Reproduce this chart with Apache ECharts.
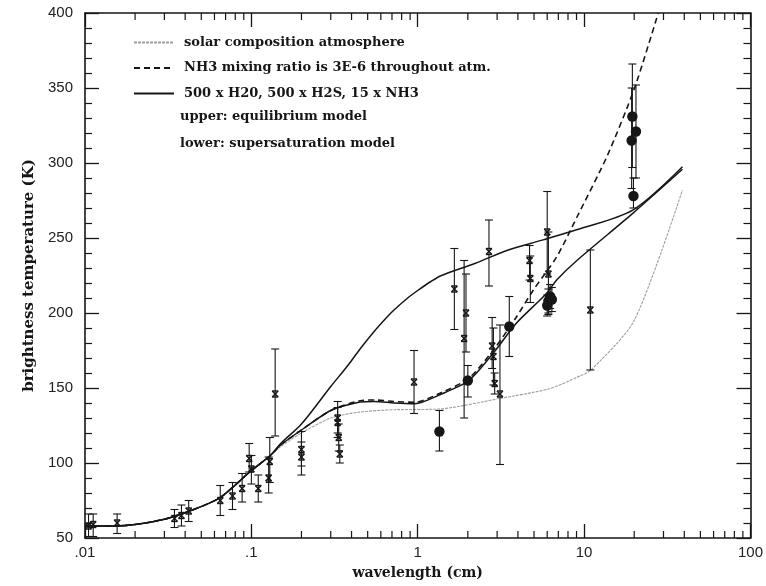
<!DOCTYPE html>
<html><head><meta charset="utf-8">
<script src="https://cdn.jsdelivr.net/npm/echarts@6/dist/echarts.min.js"></script>
<style>html,body{margin:0;padding:0;background:#fff}#c{width:766px;height:586px}</style>
</head><body><div id="c"></div>
<script>
// ---- curves (wavelength cm, brightness temperature K) ----
const solarWl = [0.01,0.015,0.02,0.03,0.045,0.065,0.1,0.13,0.15,0.2,0.3,0.45,0.72,1.36,3.1,6.2,9,11,20,39];
const solarT  = [58,58,59,62.5,69,77,95,105,111,120,130,134,135.5,136,143,149.5,157,162,195,282];

const nh3Wl = [0.01,0.015,0.02,0.03,0.045,0.065,0.1,0.13,0.15,0.2,0.3,0.45,0.55,0.72,0.96,1.39,2.03,2.88,3.9,4.93,6.84,9.06,13.8,20.1,27.9];
const nh3T  = [58,58,59,62.5,69,77,95,105,112,122,135,141.5,142,141,140.5,147,156.5,176,197,215,237.4,264,305,350,400];

const eqWl = [0.01,0.015,0.02,0.03,0.045,0.065,0.1,0.13,0.15,0.2,0.3,0.38,0.45,0.55,0.65,0.72,0.87,1,1.2,1.39,2.2,3.5,5.6,9,19.6,39];
const eqT  = [58,58,59,62.5,69,77,95,105,113,126,151,165,176,188,197,202,210,215,221,225,233,242,248.6,255.5,268.6,297.5];

const ssWl = [0.01,0.015,0.02,0.03,0.045,0.065,0.1,0.13,0.15,0.2,0.3,0.45,0.55,0.72,0.96,1.39,2.03,2.88,3.9,5.94,6.84,9.05,19.6,39];
const ssT  = [58,58,59,62.5,69,77,95,105,112,122,135,140.6,141,140,139.5,146,155,174,193,213,222,235,266.4,295.8];

// ---- measurements: cross markers ----
const crossWl = [0.0105,0.0112,0.0156,0.0345,0.038,0.042,0.065,0.077,0.088,0.097,0.1,0.11,0.127,0.129,0.139,0.2,0.2,0.33,0.33,0.335,0.34,0.95,1.66,1.9,1.95,2.68,2.8,2.85,2.9,3.12,4.7,4.75,6.0,6.1,10.9];
const crossT  = [58,59,60,63,65,68,75,78,83,103,96,83,90,101,146,109,104,130,127,117,106,154,216,183,200,241,178,171,153,146,235,223,254,226,202];
const crossLo = [51,51,53,57,58,61,65,69,74,94,86,74,80,87,118,98,92,120,117,108,100,133,189,130,174,218,163,152,146,99,222,207,226,199,162];
const crossHi = [66,66,66,69,72,75,85,87,93,113,105,92,104,117,176,121,114,141,137,126,112,175,243,235,226,262,197,190,160,192,245,238,281,254,242];

// ---- measurements: filled circles ----
const dotWl = [1.35,2.0,3.55,6.0,6.1,6.25,6.4,19.5,20.5,19.3,19.8];
const dotT  = [121,155,191,205,208,211,209,331,321,315,278];
const dotLo = [108,144,171,198,200,203,201,297,290,283,270];
const dotHi = [135,165,211,212,216,219,217,366,352,350,290];

// ---- axis labels ----
const xTickLabels = {'0.01':'.01','0.1':'.1','1':'1','10':'10','100':'100'};
const yTicks = [50,100,150,200,250,300,350,400];
const decades = [0.01,0.1,1,10];
const minorMultipliers = [2,3,4,5,6,7,8,9];

const legendNames = ['solar composition atmosphere','NH3 mixing ratio is 3E-6 throughout atm.','500 x H20, 500 x H2S, 15 x NH3'];

const zip = (a,b)=>a.map((v,i)=>[v,b[i]]);
const minorTicks = [];
decades.forEach(d=>minorMultipliers.forEach(m=>minorTicks.push([+(d*m).toPrecision(3)])));

const INK = '#161616';
const serif = 'DejaVu Serif';

function errRender(kind){
  return function(params, api){
    const x=api.value(0), y=api.value(1), lo=api.value(2), hi=api.value(3);
    const p=api.coord([x,y]), pl=api.coord([x,lo]), ph=api.coord([x,hi]);
    const st={stroke:INK,lineWidth:1.1};
    const cw=4;
    const ch=[
      {type:'line',shape:{x1:pl[0],y1:pl[1],x2:ph[0],y2:ph[1]},style:st},
      {type:'line',shape:{x1:pl[0]-cw,y1:pl[1],x2:pl[0]+cw,y2:pl[1]},style:st},
      {type:'line',shape:{x1:ph[0]-cw,y1:ph[1],x2:ph[0]+cw,y2:ph[1]},style:st}
    ];
    if(kind==='x'){
      const s=3;
      const sx={stroke:INK,lineWidth:1.4};
      ch.push({type:'line',shape:{x1:p[0]-s,y1:p[1]-s,x2:p[0]+s,y2:p[1]+s},style:sx});
      ch.push({type:'line',shape:{x1:p[0]-s,y1:p[1]+s,x2:p[0]+s,y2:p[1]-s},style:sx});
      ch.push({type:'line',shape:{x1:p[0]-s,y1:p[1]-s,x2:p[0]+s,y2:p[1]-s},style:sx});
      ch.push({type:'line',shape:{x1:p[0]-s,y1:p[1]+s,x2:p[0]+s,y2:p[1]+s},style:sx});
    } else {
      ch.push({type:'circle',shape:{cx:p[0],cy:p[1],r:5.2},style:{fill:INK}});
    }
    return {type:'group',children:ch};
  };
}

function minorTickRender(params, api){
  const x=api.value(0);
  const b=api.coord([x,50]), t=api.coord([x,400]);
  const len = 7;
  const st={stroke:INK,lineWidth:1.2};
  return {type:'group',children:[
    {type:'line',shape:{x1:b[0],y1:b[1],x2:b[0],y2:b[1]-len},style:st},
    {type:'line',shape:{x1:t[0],y1:t[1],x2:t[0],y2:t[1]+len},style:st}
  ]};
}

const axisLine = {show:true,lineStyle:{color:INK,width:1.6}};
const chart = echarts.init(document.getElementById('c'),null,{renderer:'canvas'});
chart.setOption({
  animation:false,
  backgroundColor:'#fff',
  grid:{left:85,right:15,top:13,bottom:48},
  legend:{
    orient:'vertical',left:128,top:31,itemWidth:40,itemHeight:14,itemGap:12.5,
    data:legendNames,
    itemStyle:{opacity:0},
    textStyle:{fontFamily:serif,fontSize:13,fontWeight:'bold',color:INK,padding:[0,0,0,5]},
    selectedMode:false
  },
  graphic:[
    {type:'text',left:180,top:110,style:{text:'upper: equilibrium model',font:'bold 13px "DejaVu Serif"',fill:INK}},
    {type:'text',left:180,top:137,style:{text:'lower: supersaturation model',font:'bold 13px "DejaVu Serif"',fill:INK}}
  ],
  xAxis:[
    {type:'log',logBase:10,min:0.01,max:100,position:'bottom',
     name:'wavelength (cm)',nameLocation:'middle',nameGap:28,
     nameTextStyle:{fontFamily:serif,fontSize:14,fontWeight:'bold',color:INK},
     axisLine:axisLine,splitLine:{show:false},
     axisTick:{show:true,inside:true,length:14,lineStyle:{color:INK,width:1.3}},
     minorTick:{show:false},
     axisLabel:{fontFamily:'Liberation Sans',fontSize:15,color:'#222',margin:7,
       formatter:v=>xTickLabels[String(+v.toPrecision(3))]||''}},
    {type:'log',logBase:10,min:0.01,max:100,position:'top',
     axisLine:axisLine,splitLine:{show:false},
     axisTick:{show:true,inside:true,length:14,lineStyle:{color:INK,width:1.3}},
     axisLabel:{show:false}}
  ],
  yAxis:[
    {type:'value',min:50,max:400,interval:50,position:'left',
     name:'brightness temperature (K)',nameLocation:'middle',nameGap:45,nameRotate:90,
     nameTextStyle:{fontFamily:serif,fontSize:15,fontWeight:'bold',color:INK},
     axisLine:axisLine,splitLine:{show:false},
     axisTick:{show:true,inside:true,length:14,lineStyle:{color:INK,width:1.3}},
     minorTick:{show:true,splitNumber:5,length:7,lineStyle:{color:INK,width:1.2}},
     axisLabel:{fontFamily:'Liberation Sans',fontSize:15,color:'#222',margin:12,
       formatter:v=>yTicks.includes(v)?String(v):''}},
    {type:'value',min:50,max:400,interval:50,position:'right',
     axisLine:axisLine,splitLine:{show:false},
     axisTick:{show:true,inside:true,length:14,lineStyle:{color:INK,width:1.3}},
     minorTick:{show:true,splitNumber:5,length:7,lineStyle:{color:INK,width:1.2}},
     axisLabel:{show:false}}
  ],
  series:[
    {name:legendNames[0],type:'line',data:zip(solarWl,solarT),symbol:'none',smooth:0.25,
     lineStyle:{color:'#a0a0a0',width:1.1,type:[3,1]},itemStyle:{color:'#a0a0a0'},z:2},
    {name:legendNames[1],type:'line',data:zip(nh3Wl,nh3T),symbol:'none',smooth:0.25,
     lineStyle:{color:INK,width:1.6,type:[6,4]},itemStyle:{color:INK},z:3},
    {name:legendNames[2],type:'line',data:zip(eqWl,eqT),symbol:'none',smooth:0.3,
     lineStyle:{color:INK,width:1.5},itemStyle:{color:INK},z:3},
    {name:legendNames[2],type:'line',data:zip(ssWl,ssT),symbol:'none',smooth:0.25,
     lineStyle:{color:INK,width:1.5},itemStyle:{color:INK},z:3},
    {type:'custom',renderItem:errRender('x'),
     data:crossWl.map((w,i)=>[w,crossT[i],crossLo[i],crossHi[i]]),z:4},
    {type:'custom',renderItem:errRender('o'),
     data:dotWl.map((w,i)=>[w,dotT[i],dotLo[i],dotHi[i]]),z:5},
    {type:'custom',renderItem:minorTickRender,data:minorTicks,z:6,silent:true}
  ]
});
</script></body></html>
